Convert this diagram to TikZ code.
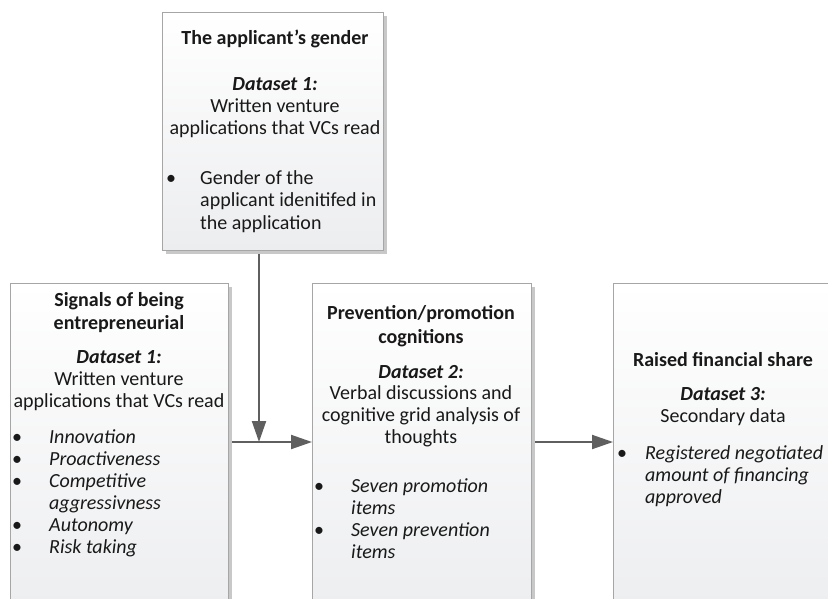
\documentclass[tikz,border=0pt]{standalone}
\usepackage{fontspec}
\setmainfont{Carlito}
\usetikzlibrary{arrows.meta}
\definecolor{boxline}{HTML}{A6A6A6}
\definecolor{boxbot}{HTML}{ECEDEF}
\definecolor{shadowc}{HTML}{C8C8C8}
\definecolor{arrowc}{HTML}{5F5F5F}
\newcommand{\bfsz}{\fontsize{20}{22}\selectfont}
\tikzset{
  box/.style={draw=boxline, line width=1pt, top color=white, bottom color=boxbot,
    anchor=north west, inner sep=0pt,
    preaction={fill=shadowc, transform canvas={shift={(3pt,-3pt)}}}},
  txt/.style={font=\bfsz, text=black!90, inner sep=0pt},
  ctr/.style={txt, anchor=base},
  lft/.style={txt, anchor=base west},
  ilft/.style={lft, font=\bfsz\itshape},
  bul/.style={txt, anchor=base},
  arr/.style={draw=arrowc, line width=2pt, -{Triangle[length=21pt,width=14pt]}}
}
\begin{document}
\begin{tikzpicture}[x=1pt,y=-1pt]
\clip (0,0) rectangle (828,598);
\fill[white] (0,0) rectangle (828,598);
% boxes
\node[box, minimum width=221pt, minimum height=238pt] (gender) at (162,12) {};
\node[box, minimum width=218pt, minimum height=340pt] (signals) at (10,283) {};
\node[box, minimum width=219pt, minimum height=340pt] (cogn) at (312,283) {};
\node[box, minimum width=240pt, minimum height=340pt] (share) at (613,283) {};
% connectors
\coordinate (j) at (259,442);
\draw[arr] ([yshift=-3pt]gender.south -| j) -- (j);
\draw[arr] ([xshift=3pt]signals.east |- j) -- (cogn.west |- j);
\draw[arr] ([xshift=3pt]cogn.east |- j) -- (share.west |- j);
% top box text
\foreach \y/\t [count=\i] in {44/{\bfseries The applicant’s gender},
  90/{\bfseries\itshape Dataset 1:}, 112/{Written venture}, 134/{applications that VCs read}}
  \node[ctr] (g\i) at (275,\y) {\t};
\node[bul] (gb1) at (171,184) {\textbullet};
\foreach \y/\t [count=\i] in {184/{Gender of the}, 206/{applicant idenitifed in}, 229/{the application}}
  \node[lft] (gl\i) at (200,\y) {\t};
% left box text
\foreach \y/\t [count=\i] in {306/{\bfseries Signals of being}, 329/{\bfseries entrepreneurial},
  363/{\bfseries\itshape Dataset 1:}, 385/{Written venture}, 407/{applications that VCs read}}
  \node[ctr] (s\i) at (119,\y) {\t};
\foreach \y [count=\i] in {443,465,487,531,553}
  \node[bul] (sb\i) at (17,\y) {\textbullet};
\foreach \y/\t [count=\i] in {443/{Innovation}, 465/{Proactiveness}, 487/{Competitive},
  509/{aggressivness}, 531/{Autonomy}, 553/{Risk taking}}
  \node[ilft] (sl\i) at (49,\y) {\t};
% middle box text
\foreach \y/\t [count=\i] in {319/{\bfseries Prevention/promotion}, 343/{\bfseries cognitions},
  378/{\bfseries\itshape Dataset 2:}, 399/{Verbal discussions and},
  421/{cognitive grid analysis of}, 443/{thoughts}}
  \node[ctr] (c\i) at (421,\y) {\t};
\foreach \y [count=\i] in {492,536}
  \node[bul] (cb\i) at (319,\y) {\textbullet};
\foreach \y/\t [count=\i] in {492/{Seven promotion}, 514/{items}, 536/{Seven prevention}, 558/{items}}
  \node[ilft] (cl\i) at (351,\y) {\t};
% right box text
\foreach \y/\t [count=\i] in {366/{\bfseries Raised financial share},
  400/{\bfseries\itshape Dataset 3:}, 422/{Secondary data}}
  \node[ctr] (r\i) at (723,\y) {\t};
\node[bul] (rb1) at (622,459) {\textbullet};
\foreach \y/\t [count=\i] in {459/{Registered negotiated}, 481/{amount of financing}, 503/{approved}}
  \node[ilft] (rl\i) at (645,\y) {\t};
\end{tikzpicture}
\end{document}
